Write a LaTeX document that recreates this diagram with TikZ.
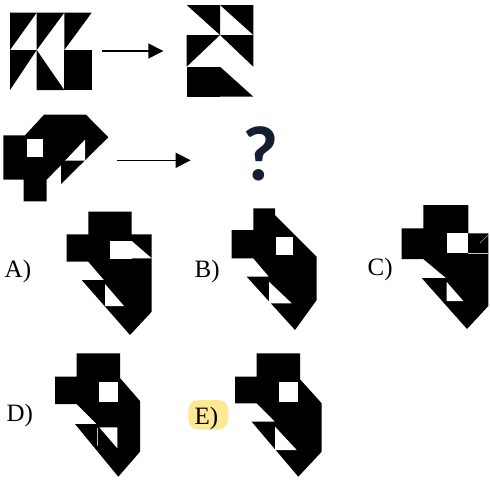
\documentclass[tikz,border=0pt]{standalone}
\usepackage{fontspec}
\setmainfont{Liberation Serif}
\newfontfamily\qfont{Carlito}
\usepackage{tikz}
\usetikzlibrary{arrows.meta}
\definecolor{hlite}{RGB}{253,232,150}
\definecolor{qblue}{RGB}{22,30,52}
\tikzset{
  piece/.style={fill=black},
  hole/.style={fill=white},
  seam/.style={draw=gray!50,line width=0.4pt},
  arr/.style={-{Triangle[length=15pt,width=15pt]},line width=1.4pt},
  lbl/.style={font=\fontsize{25}{30}\selectfont,inner sep=0pt,anchor=base west}
}

\begin{document}
\begin{tikzpicture}[x=1pt,y=-1pt]
\useasboundingbox (0,0) rectangle (490,480);
% first pair
\fill[piece] (10,12.7) -- (36.7,12.7) -- (10,50) -- cycle;
\fill[piece] (10,50) -- (36.7,50) -- (10,90) -- cycle;
\fill[piece] (36.7,12.7) -- (64.3,12.7) -- (36.7,50) -- cycle;
\fill[piece] (36.7,50) -- (36.7,90) -- (64.3,90) -- cycle;
\fill[piece] (64.3,12.7) -- (91.7,12.7) -- (64.3,50) -- cycle;
\fill[piece] (64.3,50) rectangle (91.7,90);
\fill[piece] (186.7,5) -- (220,5) -- (220,35) -- cycle;
\fill[piece] (220,5) -- (253.3,5) -- (253.3,35) -- cycle;
\fill[piece] (186.7,35) -- (220,35) -- (186.7,66.7) -- cycle;
\fill[piece] (220,35) -- (253.3,35) -- (253.3,66.7) -- cycle;
\fill[piece] (186.7,66.7) rectangle (220,96.7);
\fill[piece] (220,66.7) -- (220,96.7) -- (253.3,96.7) -- cycle;
\coordinate (a1s) at (101.7,51);
\coordinate (a1e) at (163.3,51);
\draw[arr] (a1s) -- (a1e);
% second pair
\fill[piece] (3.3,135.3) -- (25,135.3) -- (44,114.7) -- (86,114.7) -- (108.3,137.3)
  -- (61,184) -- (61,165) -- (46.7,179.7) -- (46.7,201.3) -- (23.5,201.3)
  -- (23.5,179.7) -- (3.3,179.7) -- cycle;
\fill[hole] (26.7,138.7) rectangle (43.3,156.5);
\fill[hole] (65,160.7) -- (85,139.7) -- (85,160.7) -- cycle;
\coordinate (a2s) at (116.7,160.3);
\coordinate (a2e) at (190.7,160.3);
\draw[arr] (a2s) -- (a2e);
\node[font=\qfont\bfseries\fontsize{78}{82}\selectfont,text=qblue,inner sep=0pt] (qmark) at (261,154) {?};
% answers
\node[lbl] (lblA) at (4.5,277) {A)};
\fill[piece] (88.3,211.7) -- (131.7,211.7) -- (131.7,234.3) -- (151.7,234.3) -- (151.7,311.7)
  -- (130,335) -- (81.7,280) -- (104,280) -- (88.3,261.7) -- (66.7,261.7)
  -- (66.7,234.3) -- (88.3,234.3) -- cycle;
\fill[hole] (110,241) rectangle (131.7,259);
\fill[hole] (131.7,241) -- (151.7,258.3) -- (131.7,258.3) -- cycle;
\fill[hole] (105,284) -- (105,306) -- (124,306) -- cycle;

\node[lbl] (lblB) at (194.5,277.3) {B)};
\fill[piece] (253.3,208.3) -- (275,208.3) -- (275,215) -- (316.7,256.7) -- (316.7,300)
  -- (295,330) -- (246.7,276.7) -- (269,276.7) -- (253.3,258.3) -- (231.7,258.3)
  -- (231.7,230) -- (253.3,230) -- cycle;
\fill[hole] (276,236.5) rectangle (292.5,254.5);
\fill[hole] (269,281.7) -- (269,303.3) -- (291.7,303.3) -- cycle;

\node[lbl] (lblC) at (367.5,275) {C)};
\fill[piece] (423.3,205) -- (468.3,205) -- (468.3,233.3) -- (488.3,233.3) -- (488.3,306)
  -- (467,329) -- (421.7,278) -- (446,278) -- (423.3,259) -- (401.7,259)
  -- (401.7,228.3) -- (423.3,228.3) -- cycle;
\fill[hole] (446.7,233.3) rectangle (468.3,252.5);
\fill[hole] (446.7,282) -- (446.7,301) -- (463.3,301) -- cycle;
\draw[seam] (468.3,253) -- (488.3,253);
\draw[seam] (480,243) -- (488.3,235);

\node[lbl] (lblD) at (6.5,421.5) {D)};
\fill[piece] (76.7,353.3) -- (120,353.3) -- (120,378) -- (140,401) -- (140,451.7)
  -- (118.3,476.7) -- (75,424) -- (96.7,424) -- (76.7,404) -- (55,404)
  -- (55,376.7) -- (76.7,376.7) -- cycle;
\fill[hole] (99.3,381.7) rectangle (118.3,401.7);
\fill[hole] (99.3,427.3) -- (117.3,427.3) -- (117.3,448.3) -- cycle;
\draw[seam] (97,428) -- (97,446);

\fill[hlite,rounded corners=10pt] (188.3,400) rectangle (228.3,429.5);
\node[lbl] (lblE) at (194.5,424) {E)};
\fill[piece] (256.7,353.3) -- (300,353.3) -- (300,379.3) -- (321.7,403.3) -- (321.7,451.7)
  -- (298.3,476.7) -- (251.7,421.7) -- (275,421.7) -- (256.7,403.3) -- (235,403.3)
  -- (235,376.7) -- (256.7,376.7) -- cycle;
\fill[hole] (279.3,381.7) rectangle (298.3,401.7);
\fill[hole] (275,426.7) -- (275,450) -- (296.7,450) -- cycle;
\end{tikzpicture}
\end{document}
